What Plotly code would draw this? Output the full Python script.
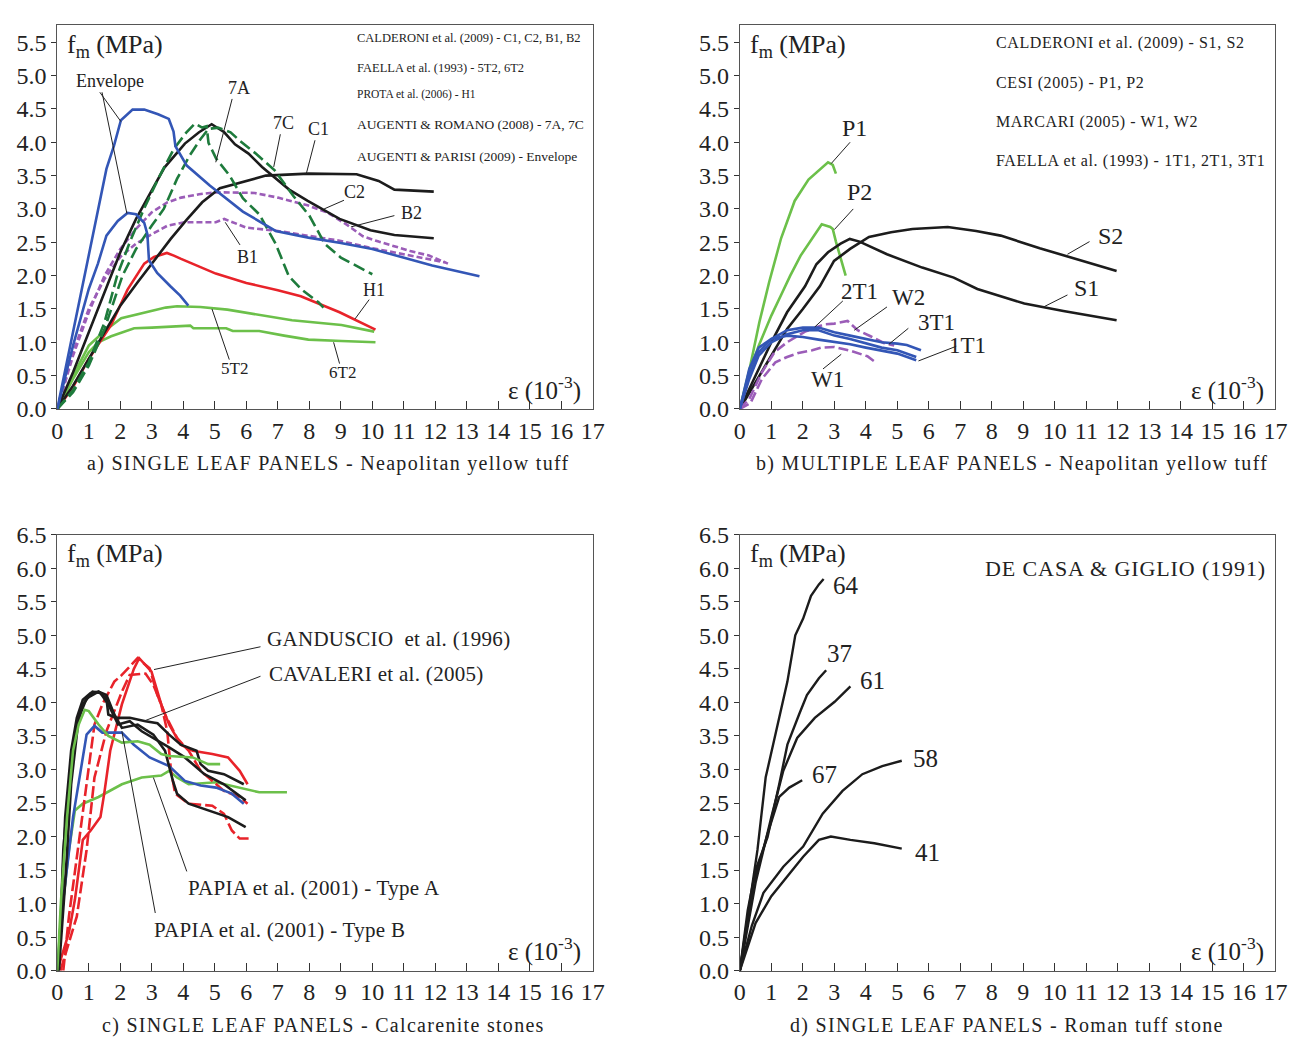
import plotly.graph_objects as go

# ---------------- DATA ----------------
# Panel a) SINGLE LEAF PANELS - Neapolitan yellow tuff
a_env_hi_x = [0, 0.5, 1.0, 1.56, 1.8, 2.02, 2.39, 2.76, 3.2, 3.54, 3.69, 3.75, 4.11, 4.84, 5.89, 6.93, 7.97, 9.0, 10.0, 11.9, 13.4]
a_env_hi_y = [0, 1.15, 2.3, 3.6, 3.95, 4.33, 4.49, 4.49, 4.42, 4.35, 4.16, 3.94, 3.65, 3.35, 2.96, 2.67, 2.57, 2.49, 2.4, 2.15, 1.99]
a_env_lo_x = [0, 0.5, 1.0, 1.29, 1.56, 1.92, 2.23, 2.5, 2.76, 2.86, 2.91, 3.17, 3.59, 3.9, 4.16]
a_env_lo_y = [0, 0.95, 1.8, 2.18, 2.6, 2.82, 2.94, 2.92, 2.79, 2.62, 2.23, 2.04, 1.84, 1.7, 1.55]
a_c2_x = [0, 0.5, 1, 1.5, 2, 2.5, 3, 3.4, 4.05, 4.5, 4.9, 5.3, 5.64, 6.07, 6.5, 7.0, 7.36, 7.95, 8.96, 9.94, 10.7, 11.95]
a_c2_y = [0, 0.55, 1.15, 1.75, 2.35, 2.85, 3.27, 3.62, 3.98, 4.15, 4.27, 4.15, 3.97, 3.83, 3.63, 3.44, 3.29, 3.12, 2.85, 2.68, 2.61, 2.56]
a_c1_x = [0, 0.5, 1, 1.5, 2, 2.55, 3.17, 3.6, 4.11, 4.6, 5.16, 5.89, 6.62, 7.97, 9.5, 10.2, 10.7, 11.95]
a_c1_y = [0, 0.35, 0.75, 1.15, 1.55, 1.9, 2.28, 2.55, 2.84, 3.1, 3.31, 3.4, 3.5, 3.53, 3.52, 3.42, 3.29, 3.26]
a_7a_x = [0, 0.5, 1, 1.5, 1.9, 2.3, 2.75, 3.2, 3.7, 4.1, 4.37, 4.6, 4.74, 4.8, 5.05, 5.47, 5.89, 6.41, 6.93, 7.35, 7.76, 8.29, 8.45]
a_7a_y = [0, 0.28, 0.7, 1.3, 2.0, 2.5, 3.0, 3.45, 3.9, 4.15, 4.28, 4.22, 4.24, 3.99, 3.75, 3.5, 3.16, 2.92, 2.48, 1.99, 1.79, 1.6, 1.52]
a_7c_x = [0, 0.5, 1, 1.5, 2.07, 2.5, 3.0, 3.38, 3.8, 4.2, 4.55, 4.8, 5.1, 5.5, 5.8, 6.3, 6.9, 7.5, 8.0, 8.5, 9.0, 10.0]
a_7c_y = [0, 0.25, 0.65, 1.2, 2.0, 2.4, 2.75, 3.0, 3.45, 3.8, 4.05, 4.2, 4.22, 4.15, 4.02, 3.83, 3.58, 3.19, 2.9, 2.47, 2.27, 2.02]
a_b2_x = [0, 0.5, 1, 1.5, 2, 2.5, 3, 3.5, 3.93, 4.5, 5.03, 6.26, 7.0, 7.97, 8.6, 9.2, 9.7, 10.2, 11.2, 11.8, 12.4]
a_b2_y = [0, 0.8, 1.45, 2.0, 2.4, 2.7, 2.95, 3.1, 3.17, 3.22, 3.25, 3.24, 3.17, 3.05, 2.94, 2.76, 2.59, 2.51, 2.37, 2.3, 2.18]
a_b1_x = [0, 0.5, 1, 1.5, 2, 2.5, 3, 3.5, 4.05, 5.03, 5.3, 6.0, 7.0, 8.0, 9.0, 9.9, 11.2, 12.3]
a_b1_y = [0, 0.85, 1.5, 1.95, 2.28, 2.48, 2.62, 2.75, 2.8, 2.8, 2.85, 2.72, 2.67, 2.6, 2.52, 2.42, 2.3, 2.2]
a_h1_x = [0, 0.5, 1, 1.71, 2.23, 2.76, 3.07, 3.48, 3.7, 3.93, 5.03, 6.0, 7.0, 7.73, 8.96, 10.1]
a_h1_y = [0, 0.33, 0.75, 1.26, 1.79, 2.18, 2.28, 2.34, 2.3, 2.25, 2.03, 1.89, 1.78, 1.69, 1.45, 1.19]
a_5t2_x = [0, 0.5, 1, 1.5, 2.03, 2.58, 3.44, 3.8, 4.54, 5.4, 5.89, 7.45, 9.02, 10.06]
a_5t2_y = [0, 0.5, 0.95, 1.17, 1.36, 1.42, 1.52, 1.54, 1.53, 1.49, 1.45, 1.33, 1.26, 1.16]
a_6t2_x = [0, 0.5, 1, 1.3, 1.71, 2.1, 2.44, 3.0, 3.8, 4.22, 4.32, 5.36, 5.57, 6.41, 7.2, 7.97, 9.02, 10.1]
a_6t2_y = [0, 0.45, 0.85, 1.0, 1.09, 1.15, 1.21, 1.22, 1.24, 1.25, 1.21, 1.21, 1.17, 1.17, 1.1, 1.04, 1.02, 1.0]

# Panel b) MULTIPLE LEAF PANELS - Neapolitan yellow tuff
b_p1_x = [0, 0.31, 0.62, 0.93, 1.31, 1.74, 2.18, 2.62, 2.8, 2.95, 3.05]
b_p1_y = [0, 0.6, 1.3, 1.9, 2.56, 3.12, 3.44, 3.63, 3.7, 3.66, 3.53]
b_p2_x = [0, 0.3, 0.6, 1.0, 1.31, 1.6, 1.93, 2.3, 2.6, 2.87, 2.95, 3.05, 3.2, 3.36]
b_p2_y = [0, 0.55, 0.95, 1.4, 1.71, 2.0, 2.3, 2.56, 2.77, 2.73, 2.7, 2.51, 2.25, 2.0]
b_s1_x = [0, 0.5, 1, 1.5, 2.07, 2.43, 2.8, 3.2, 3.49, 3.8, 4.67, 5.79, 6.79, 7.54, 9.03, 10.27, 11.96]
b_s1_y = [0, 0.5, 1.0, 1.45, 1.84, 2.17, 2.35, 2.48, 2.55, 2.51, 2.32, 2.12, 1.97, 1.8, 1.58, 1.47, 1.33]
b_s2_x = [0, 0.5, 1, 1.5, 2.0, 2.54, 2.99, 3.5, 4.1, 4.8, 5.48, 6.6, 7.5, 8.28, 9.52, 10.77, 11.96]
b_s2_y = [0, 0.4, 0.8, 1.2, 1.5, 1.84, 2.22, 2.4, 2.58, 2.65, 2.7, 2.73, 2.67, 2.6, 2.41, 2.24, 2.07]
b_2t1_x = [0, 0.3, 0.6, 1.0, 1.5, 2.0, 2.5, 3.0, 3.5, 4.0, 4.5, 5.0, 5.3, 5.75]
b_2t1_y = [0, 0.5, 0.85, 1.05, 1.18, 1.22, 1.22, 1.15, 1.1, 1.05, 1.0, 0.98, 0.96, 0.88]
b_3t1_x = [0, 0.3, 0.6, 1.0, 1.5, 2.0, 2.5, 3.0, 3.5, 4.0, 4.5, 5.0, 5.6]
b_3t1_y = [0, 0.45, 0.8, 1.0, 1.12, 1.18, 1.18, 1.1, 1.05, 0.98, 0.92, 0.88, 0.78]
b_1t1_x = [0, 0.3, 0.6, 1.0, 1.5, 2.0, 2.5, 3.0, 3.5, 4.0, 4.5, 5.0, 5.6]
b_1t1_y = [0, 0.6, 0.92, 1.05, 1.1, 1.08, 1.04, 1.01, 0.97, 0.92, 0.88, 0.83, 0.73]
b_w1_x = [0, 0.34, 0.7, 1.13, 1.5, 1.86, 2.3, 2.59, 3.0, 3.53, 4.05, 4.31]
b_w1_y = [0, 0.09, 0.45, 0.7, 0.78, 0.84, 0.88, 0.92, 0.93, 0.87, 0.79, 0.7]
b_w2_x = [0, 0.3, 0.7, 1.1, 1.5, 2.07, 2.69, 3.0, 3.42, 3.74, 4.15, 4.57, 4.9]
b_w2_y = [0, 0.15, 0.55, 0.85, 1.0, 1.16, 1.27, 1.28, 1.32, 1.18, 1.09, 0.99, 0.95]

# Panel c) SINGLE LEAF PANELS - Calcarenite stones
c_red1_x = [0, 0.37, 0.56, 0.81, 1.06, 1.37, 1.49, 1.68, 2.05, 2.43, 2.6, 2.99, 3.3, 3.55, 3.92, 4.3, 4.92, 5.42, 5.79, 6.04]
c_red1_y = [0, 0.57, 1.06, 1.95, 2.09, 2.29, 2.64, 3.28, 3.97, 4.5, 4.66, 4.46, 3.97, 3.67, 3.37, 3.28, 3.23, 3.18, 2.98, 2.78]
c_red2_x = [0.1, 0.62, 0.93, 1.18, 1.56, 2.05, 2.3, 2.8, 3.05, 3.3, 3.49, 3.61, 3.74, 4.17, 4.92, 5.29, 5.54, 5.79, 6.1]
c_red2_y = [0, 0.81, 1.8, 2.88, 3.57, 4.16, 4.41, 4.43, 4.26, 3.97, 3.57, 2.98, 2.64, 2.49, 2.46, 2.34, 2.09, 1.97, 1.97]
c_red3_x = [0.19, 0.37, 0.68, 0.93, 1.18, 1.43, 1.81, 2.05, 2.55, 2.93, 3.18, 3.42, 3.8, 4.17, 4.55, 5.29, 5.79, 6.04]
c_red3_y = [0, 0.81, 1.9, 2.78, 3.67, 3.97, 4.31, 4.41, 4.66, 4.51, 4.11, 3.82, 3.47, 3.28, 2.98, 2.68, 2.59, 2.49]
c_blk1_x = [0, 0.12, 0.25, 0.44, 0.62, 0.81, 1.06, 1.31, 1.56, 1.62, 1.87, 2.3, 2.8, 3.18, 3.55, 3.92, 4.42, 4.55, 4.79, 5.29, 5.92]
c_blk1_y = [0, 0.81, 2.29, 3.28, 3.77, 4.04, 4.14, 4.16, 4.06, 3.82, 3.77, 3.77, 3.72, 3.69, 3.52, 3.37, 3.28, 3.08, 2.98, 2.93, 2.78]
c_blk2_x = [0.05, 0.19, 0.37, 0.56, 0.81, 1.12, 1.37, 1.62, 1.93, 2.3, 2.68, 3.05, 3.55, 4.05, 4.67, 5.29, 5.98]
c_blk2_y = [0, 1.8, 2.78, 3.52, 3.97, 4.16, 4.14, 3.97, 3.67, 3.72, 3.57, 3.47, 3.33, 3.18, 2.93, 2.78, 2.54]
c_blk3_x = [0.05, 0.25, 0.44, 0.68, 0.93, 1.31, 1.56, 1.81, 2.05, 2.55, 3.05, 3.42, 3.67, 3.8, 4.17, 4.79, 5.42, 5.98]
c_blk3_y = [0, 1.31, 2.78, 3.77, 4.06, 4.16, 4.11, 3.82, 3.62, 3.67, 3.52, 3.28, 2.83, 2.64, 2.49, 2.39, 2.29, 2.14]
c_blue_x = [0, 0.19, 0.5, 0.75, 0.93, 1.18, 1.43, 2.05, 2.43, 2.93, 3.55, 4.05, 4.55, 5.04, 5.54, 5.92]
c_blue_y = [0, 1.06, 2.29, 3.03, 3.52, 3.65, 3.55, 3.55, 3.37, 3.18, 3.05, 2.83, 2.76, 2.73, 2.64, 2.49]
c_grn1_x = [0, 0.12, 0.31, 0.5, 0.68, 0.87, 1.0, 1.31, 1.62, 2.05, 2.55, 2.93, 3.3, 3.55, 4.3, 4.79, 5.17]
c_grn1_y = [0, 1.06, 2.29, 3.28, 3.67, 3.89, 3.87, 3.67, 3.5, 3.4, 3.42, 3.37, 3.23, 3.2, 3.18, 3.08, 3.08]
c_grn2_x = [0, 0.19, 0.37, 0.56, 0.81, 1.31, 2.05, 2.68, 3.3, 3.55, 3.8, 4.17, 5.04, 5.79, 6.41, 7.29]
c_grn2_y = [0, 1.06, 1.8, 2.39, 2.49, 2.59, 2.78, 2.88, 2.91, 2.98, 2.88, 2.78, 2.81, 2.73, 2.66, 2.66]

# Panel d) SINGLE LEAF PANELS - Roman tuff stone
d_64_x = [0, 0.25, 0.56, 0.82, 1.13, 1.51, 1.76, 2.01, 2.26, 2.51, 2.66]
d_64_y = [0, 0.81, 1.8, 2.88, 3.52, 4.31, 5.0, 5.25, 5.59, 5.76, 5.84]
d_37_x = [0, 0.25, 0.5, 0.88, 1.25, 1.51, 1.88, 2.13, 2.51, 2.74]
d_37_y = [0, 0.9, 1.5, 1.99, 2.78, 3.37, 3.82, 4.11, 4.36, 4.48]
d_61_x = [0, 0.5, 1.0, 1.38, 1.82, 2.38, 3.01, 3.51]
d_61_y = [0, 1.31, 2.29, 2.98, 3.47, 3.77, 4.01, 4.24]
d_67_x = [0, 0.44, 0.88, 1.25, 1.57, 1.98]
d_67_y = [0, 1.31, 2.04, 2.59, 2.73, 2.84]
d_58_x = [0, 0.38, 0.75, 1.38, 2.01, 2.63, 3.26, 3.89, 4.52, 5.14]
d_58_y = [0, 0.67, 1.16, 1.55, 1.85, 2.34, 2.68, 2.93, 3.05, 3.13]
d_41_x = [0, 0.5, 1.0, 1.51, 2.01, 2.51, 2.89, 3.51, 4.27, 5.14]
d_41_y = [0, 0.71, 1.11, 1.4, 1.7, 1.95, 2.0, 1.95, 1.9, 1.82]

# tick values
x_ticks = list(range(0, 18))
y_ticks_ab = [0.0, 0.5, 1.0, 1.5, 2.0, 2.5, 3.0, 3.5, 4.0, 4.5, 5.0, 5.5]
y_ticks_cd = [0.0, 0.5, 1.0, 1.5, 2.0, 2.5, 3.0, 3.5, 4.0, 4.5, 5.0, 5.5, 6.0, 6.5]

# curve labels: (text, x, y, size)
a_labels = [("Envelope", 1.68, 4.92, 18), ("7A", 5.76, 4.81, 18), ("7C", 7.18, 4.29, 18),
            ("C1", 8.3, 4.2, 18), ("C2", 9.44, 3.25, 18), ("B2", 11.23, 2.94, 18),
            ("B1", 6.03, 2.28, 18), ("H1", 10.05, 1.79, 18), ("5T2", 5.64, 0.6, 17), ("6T2", 9.04, 0.54, 17)]
a_leaders = [(1.35, 4.75, 2.02, 4.31), (1.42, 4.75, 2.21, 2.93), (5.55, 4.65, 5.03, 3.7),
             (7.08, 4.12, 6.87, 3.63), (8.18, 4.03, 7.9, 3.52), (9.1, 3.13, 8.47, 3.0),
             (10.7, 2.9, 9.32, 2.73), (5.8, 2.46, 5.33, 2.8), (9.9, 1.64, 9.45, 1.35),
             (5.46, 0.74, 4.91, 1.5), (8.96, 0.68, 8.77, 1.0)]
a_legend = [("CALDERONI et al. (2009) - C1, C2, B1, B2", 5.56, 12.5), ("FAELLA et al. (1993) - 5T2, 6T2", 5.12, 12.5),
            ("PROTA et al. (2006) - H1", 4.72, 11.5), ("AUGENTI & ROMANO (2008) - 7A, 7C", 4.26, 13.5),
            ("AUGENTI & PARISI (2009) - Envelope", 3.79, 13.5)]
b_labels = [("P1", 3.63, 4.21, 24), ("P2", 3.79, 3.25, 24), ("S2", 11.77, 2.6, 24), ("S1", 11.01, 1.81, 24),
            ("2T1", 3.79, 1.76, 23), ("W2", 5.35, 1.67, 23), ("3T1", 6.23, 1.29, 23), ("1T1", 7.23, 0.95, 23),
            ("W1", 2.79, 0.44, 23)]
b_leaders = [(3.5, 4.0, 2.9, 3.68), (3.6, 3.0, 3.0, 2.69), (11.1, 2.51, 10.4, 2.32), (10.4, 1.71, 9.6, 1.52),
             (3.27, 1.62, 2.38, 1.23), (4.67, 1.53, 3.63, 1.18), (5.35, 1.21, 4.73, 0.97),
             (6.87, 0.94, 5.67, 0.72), (2.64, 0.6, 3.22, 0.82)]
b_legend = [("CALDERONI et al. (2009) - S1, S2", 5.49), ("CESI (2005) - P1, P2", 4.89),
            ("MARCARI (2005) - W1, W2", 4.30), ("FAELLA et al. (1993) - 1T1, 2T1, 3T1", 3.72)]
c_labels = [("GANDUSCIO  et al. (1996)", 6.6, 4.94), ("CAVALERI et al. (2005)", 6.67, 4.42),
            ("PAPIA et al. (2001) - Type A", 4.07, 1.24), ("PAPIA et al. (2001) - Type B", 3.0, 0.61)]
c_leaders = [(6.45, 4.83, 3.07, 4.49), (6.45, 4.39, 2.74, 3.72), (4.11, 1.48, 3.05, 2.88), (3.11, 0.86, 2.05, 3.57)]
d_labels = [("64", 3.38, 5.74), ("37", 3.16, 4.73), ("61", 4.2, 4.33), ("67", 2.69, 2.92), ("58", 5.89, 3.16), ("41", 5.95, 1.76)]

captions = [("a) SINGLE LEAF PANELS - Neapolitan yellow tuff", 327, 462),
            ("b) MULTIPLE LEAF PANELS - Neapolitan yellow tuff", 1020, 462),
            ("c) SINGLE LEAF PANELS - Calcarenite stones", 322, 1038),
            ("d) SINGLE LEAF PANELS - Roman tuff stone", 1015, 1038)]

# ---------------- STYLE ----------------
W, H = 1316, 1050
FONT = "Liberation Serif, Times New Roman, serif"
BLUE = "#3356B6"
BLACK = "#1c1c1c"
DGREEN = "#1E7B3C"
LGREEN = "#6CC04A"
PURPLE = "#9B5DB8"
RED = "#E8232A"

fig = go.Figure()

def add(x, y, color, ax, dash="solid", width=2.6):
    fig.add_trace(go.Scatter(x=x, y=y, mode="lines", xaxis="x" + ax, yaxis="y" + ax,
                             line=dict(color=color, width=width, dash=dash), showlegend=False,
                             hoverinfo="skip"))

A, B, C, D = "", "2", "3", "4"
add(a_6t2_x, a_6t2_y, LGREEN, A)
add(a_5t2_x, a_5t2_y, LGREEN, A)
add(a_h1_x, a_h1_y, RED, A)
add(a_b1_x, a_b1_y, PURPLE, A, dash="6px,3px")
add(a_b2_x, a_b2_y, PURPLE, A, dash="6px,3px")
add(a_c1_x, a_c1_y, BLACK, A)
add(a_c2_x, a_c2_y, BLACK, A)
add(a_7a_x, a_7a_y, DGREEN, A, dash="12px,5px")
add(a_7c_x, a_7c_y, DGREEN, A, dash="12px,5px")
add(a_env_lo_x, a_env_lo_y, BLUE, A)
add(a_env_hi_x, a_env_hi_y, BLUE, A)

add(b_p1_x, b_p1_y, LGREEN, B)
add(b_p2_x, b_p2_y, LGREEN, B)
add(b_s1_x, b_s1_y, BLACK, B)
add(b_s2_x, b_s2_y, BLACK, B)
add(b_w1_x, b_w1_y, PURPLE, B, dash="10px,4px")
add(b_w2_x, b_w2_y, PURPLE, B, dash="10px,4px")
add(b_1t1_x, b_1t1_y, BLUE, B)
add(b_3t1_x, b_3t1_y, BLUE, B)
add(b_2t1_x, b_2t1_y, BLUE, B)

add(c_grn2_x, c_grn2_y, LGREEN, C)
add(c_red1_x, c_red1_y, RED, C)
add(c_red2_x, c_red2_y, RED, C, dash="12px,4px")
add(c_red3_x, c_red3_y, RED, C, dash="12px,4px")
add(c_blue_x, c_blue_y, BLUE, C)
add(c_blk1_x, c_blk1_y, BLACK, C)
add(c_blk2_x, c_blk2_y, BLACK, C)
add(c_blk3_x, c_blk3_y, BLACK, C)
add(c_grn1_x, c_grn1_y, LGREEN, C)

for xs, ys in [(d_64_x, d_64_y), (d_37_x, d_37_y), (d_61_x, d_61_y), (d_67_x, d_67_y), (d_58_x, d_58_y), (d_41_x, d_41_y)]:
    add(xs, ys, BLACK, D, width=2.4)

left_l, right_l = 52, 595
left_r, right_r = 744, 1287
top_ab, bot_ab = 12, 406
top_cd, bot_cd = 535, 982
ymax_ab = (bot_ab - top_ab) / ((bot_ab - 30) / 5.5)

def xdom(l, r):
    return [l / W, r / W]

def ydom(t, b):
    return [1 - b / H, 1 - t / H]

TICKFONT = dict(family=FONT, size=24, color="#222")

def xaxis(dom, anchor):
    return dict(domain=dom, anchor=anchor, range=[0, 17], tickvals=x_ticks, ticks="inside", ticklen=8,
                tickcolor="#333", showgrid=False, zeroline=False, showline=True, mirror=True,
                linecolor="#555", linewidth=1, tickfont=TICKFONT)

def yaxis(dom, anchor, rng, tv):
    return dict(domain=dom, anchor=anchor, range=rng, tickvals=tv, tickformat=".1f", ticks="outside",
                ticklen=5, tickcolor="#333", showgrid=False, zeroline=False, showline=True, mirror=True,
                linecolor="#555", linewidth=1, tickfont=TICKFONT)

fig.update_layout(
    width=W, height=H, margin=dict(l=0, r=0, t=0, b=0), paper_bgcolor="white", plot_bgcolor="white",
    xaxis=xaxis(xdom(left_l, right_l), "y"), yaxis=yaxis(ydom(top_ab, bot_ab), "x", [0, ymax_ab], y_ticks_ab),
    xaxis2=xaxis(xdom(left_r, right_r), "y2"), yaxis2=yaxis(ydom(top_ab, bot_ab), "x2", [0, ymax_ab], y_ticks_ab),
    xaxis3=xaxis(xdom(left_l, right_l), "y3"), yaxis3=yaxis(ydom(top_cd, bot_cd), "x3", [0, 6.5], y_ticks_cd),
    xaxis4=xaxis(xdom(left_r, right_r), "y4"), yaxis4=yaxis(ydom(top_cd, bot_cd), "x4", [0, 6.5], y_ticks_cd),
    showlegend=False,
)

ann = []
shapes = []

def spaced(text, ls):
    if ls <= 0:
        return text
    return '<span style="letter-spacing:%.1fpx">%s</span>' % (ls, text)

def txt(text, x, y, ax, size, xanchor="center", ls=0, xshift=0):
    ann.append(dict(text=spaced(text, ls), x=x, y=y, xref="x" + ax, yref="y" + ax, showarrow=False,
                    xanchor=xanchor, yanchor="middle", xshift=xshift,
                    font=dict(family=FONT, size=size, color="#222")))

def leader(x0, y0, x1, y1, ax):
    shapes.append(dict(type="line", x0=x0, y0=y0, x1=x1, y1=y1, xref="x" + ax, yref="y" + ax,
                       line=dict(color="#222", width=1)))

for t, x, y, s in a_labels:
    txt(t, x, y, A, s)
for l in a_leaders:
    leader(*l, A)
for t, y, s in a_legend:
    txt(t, 9.45, y, A, s, xanchor="left")
for t, x, y, s in b_labels:
    txt(t, x, y, B, s)
for l in b_leaders:
    leader(*l, B)
for t, y in b_legend:
    txt(t, 8.08, y, B, 16, xanchor="left", ls=0.6)
for t, x, y in c_labels:
    txt(t, x, y, C, 21, xanchor="left", ls=0.3)
for l in c_leaders:
    leader(*l, C)
for t, x, y in d_labels:
    txt(t, x, y, D, 25)
txt("DE CASA & GIGLIO (1991)", 16.75, 5.99, D, 22, xanchor="right", ls=0.9)

fm = "f<sub>m</sub> (MPa)"
eps = "ε (10<sup>-3</sup>)"
for ax, yv in [(A, 5.45), (B, 5.45), (C, 6.2), (D, 6.2)]:
    txt(fm, 0.25, yv, ax, 26, xanchor="left")
for ax, yv in [(A, 0.3), (B, 0.3), (C, 0.31), (D, 0.31)]:
    txt(eps, 16.7, yv, ax, 25, xanchor="right")

for t, px, py in captions:
    ann.append(dict(text=spaced(t, 1.3), x=px / W, y=1 - py / H, xref="paper", yref="paper", showarrow=False,
                    xanchor="center", yanchor="middle", font=dict(family=FONT, size=20, color="#222")))

fig.update_layout(annotations=ann, shapes=shapes)
fig.write_html("out.html")
